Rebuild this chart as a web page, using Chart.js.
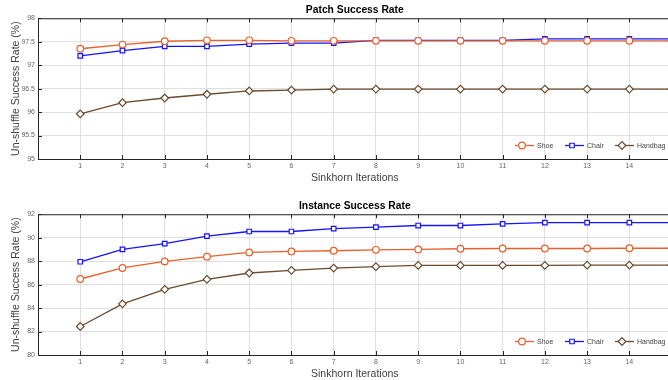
<!DOCTYPE html>
<html><head><meta charset="utf-8">
<script src="https://cdn.jsdelivr.net/npm/chart.js@4/dist/chart.umd.min.js"></script>
<style>
html,body{margin:0;padding:0;width:668px;height:380px;overflow:hidden;background:#fff;}
.wrap{position:absolute;left:0;width:680px;height:190px;}
#w1{top:0}
#w2{top:196px}
</style></head><body>
<div class="wrap" id="w1"><canvas id="c1" width="680" height="190"></canvas></div>
<div class="wrap" id="w2"><canvas id="c2" width="680" height="190"></canvas></div>
<script>
// ---- data ----
const iterations = [1,2,3,4,5,6,7,8,9,10,11,12,13,14,15];
const seriesNames = ['Shoe','Chair','Handbag'];
const xTickLabels = ['1','2','3','4','5','6','7','8','9','10','11','12','13','14'];

const patchShoe    = [97.35,97.44,97.51,97.53,97.53,97.52,97.52,97.52,97.52,97.52,97.52,97.52,97.52,97.52,97.52];
const patchChair   = [97.20,97.31,97.40,97.40,97.45,97.47,97.47,97.53,97.53,97.53,97.53,97.56,97.56,97.56,97.56];
const patchHandbag = [95.96,96.20,96.30,96.38,96.45,96.47,96.49,96.49,96.49,96.49,96.49,96.49,96.49,96.49,96.49];
const patchYTicks  = [95,95.5,96,96.5,97,97.5,98];

const instShoe    = [86.48,87.42,87.98,88.38,88.75,88.83,88.89,88.97,89.00,89.06,89.08,89.08,89.08,89.10,89.10];
const instChair   = [87.95,89.00,89.50,90.13,90.53,90.53,90.78,90.90,91.04,91.04,91.18,91.29,91.29,91.29,91.29];
const instHandbag = [82.43,84.36,85.60,86.45,86.99,87.22,87.41,87.53,87.64,87.64,87.64,87.64,87.66,87.66,87.66];
const instYTicks  = [80,82,84,86,88,90,92];

// ---- styles ----
const colors = ['#e8602c','#1414ff','#6b4a2e'];
const pointStyles = ['circle','rect','rectRot'];
const pointRadii = [3.3,3.2,3.8];
const FONT = "'Liberation Sans', Arial, Helvetica, sans-serif";

function makeDatasets(arrs){
  return arrs.map((vals,i)=>({
    label: seriesNames[i],
    data: iterations.map((x,k)=>({x:x,y:vals[k]})),
    borderColor: colors[i],
    backgroundColor: '#ffffff',
    pointBackgroundColor: '#ffffff',
    pointBorderColor: colors[i],
    pointStyle: pointStyles[i],
    pointRadius: pointRadii[i],
    pointBorderWidth: 1.2,
    borderWidth: 1.3,
    tension: 0,
    clip: false
  }));
}

const boxPlugin = {
  id: 'boxPlugin',
  afterDraw(chart){
    const ctx = chart.ctx, a = chart.chartArea;
    const xs = chart.scales.x, ys = chart.scales.y;
    ctx.save();
    ctx.strokeStyle = '#262626';
    ctx.lineWidth = 1;
    // top border
    ctx.beginPath(); ctx.moveTo(a.left, a.top+0.5); ctx.lineTo(a.right+10, a.top+0.5); ctx.stroke();
    // inward ticks
    ctx.beginPath();
    xs.ticks.forEach(t=>{
      const px = Math.round(xs.getPixelForValue(t.value))+0.5;
      ctx.moveTo(px, a.bottom); ctx.lineTo(px, a.bottom-4);
      ctx.moveTo(px, a.top); ctx.lineTo(px, a.top+4);
    });
    ys.ticks.forEach(t=>{
      const py = Math.round(ys.getPixelForValue(t.value))+0.5;
      ctx.moveTo(a.left, py); ctx.lineTo(a.left+4, py);
    });
    ctx.stroke();
    // legend inside, lower right
    const y = a.bottom - 13.5;
    chart.data.datasets.forEach((ds,i)=>{
      const x0 = a.right - 156.6 + i*50;
      ctx.strokeStyle = ds.borderColor;
      ctx.lineWidth = 1.3;
      ctx.beginPath(); ctx.moveTo(x0, y); ctx.lineTo(x0+19, y); ctx.stroke();
      ctx.fillStyle = '#ffffff';
      ctx.lineWidth = 1.2;
      Chart.helpers.drawPoint(ctx, {pointStyle: ds.pointStyle, radius: ds.pointRadius, rotation: 0, borderWidth: 1.2}, x0+7, y);
      ctx.fillStyle = '#444444';
      ctx.font = "7px " + FONT;
      ctx.textBaseline = 'middle';
      ctx.textAlign = 'left';
      ctx.fillText(ds.label, x0+22, y+0.5);
    });
    ctx.restore();
  }
};

function makeChart(id, title, arrs, yTicks){
  return new Chart(document.getElementById(id), {
    type: 'line',
    data: { datasets: makeDatasets(arrs) },
    plugins: [boxPlugin],
    options: {
      responsive: false,
      animation: false,
      devicePixelRatio: 1,
      layout: { padding: { left: 0, right: 8.4, top: 0, bottom: 0 } },
      plugins: {
        legend: { display: false },
        tooltip: { enabled: false },
        title: {
          display: true, text: title, color: '#000', fullSize: false,
          font: { family: FONT, size: 10.3, weight: 'bold' },
          padding: { top: 3.8, bottom: 2.1 }
        }
      },
      scales: {
        x: {
          type: 'linear', min: 0, max: iterations[iterations.length-1],
          afterBuildTicks(s){ s.ticks = [0].concat(iterations).map(v=>({value:v})); },
          afterFit(s){ s.height = 31; },
          ticks: {
            color: '#666', font: { family: FONT, size: 7 }, padding: 3, maxRotation: 0, autoSkip: false,
            callback: (v)=> (v>=1 && v<=xTickLabels.length) ? xTickLabels[v-1] : ''
          },
          grid: { color: '#e0e0e0', lineWidth: 1, drawTicks: false },
          border: { color: '#262626', width: 1 },
          title: { display: true, text: 'Sinkhorn Iterations', color: '#404040',
            font: { family: FONT, size: 10.5 }, padding: { top: 0, bottom: 5.7 } }
        },
        y: {
          type: 'linear', min: yTicks[0], max: yTicks[yTicks.length-1],
          afterBuildTicks(s){ s.ticks = yTicks.map(v=>({value:v})); },
          afterFit(s){ s.width = 38; },
          ticks: { color: '#666', font: { family: FONT, size: 7 }, padding: 3,
            callback: (v)=> String(v) },
          grid: { color: '#e0e0e0', lineWidth: 1, drawTicks: false },
          border: { color: '#262626', width: 1 },
          title: { display: true, text: 'Un-shuffle Success Rate (%)', color: '#404040',
            font: { family: FONT, size: 10.5 }, padding: { top: 9.5, bottom: 0 } }
        }
      }
    }
  });
}

makeChart('c1', 'Patch Success Rate', [patchShoe, patchChair, patchHandbag], patchYTicks);
makeChart('c2', 'Instance Success Rate', [instShoe, instChair, instHandbag], instYTicks);
</script>
</body></html>
